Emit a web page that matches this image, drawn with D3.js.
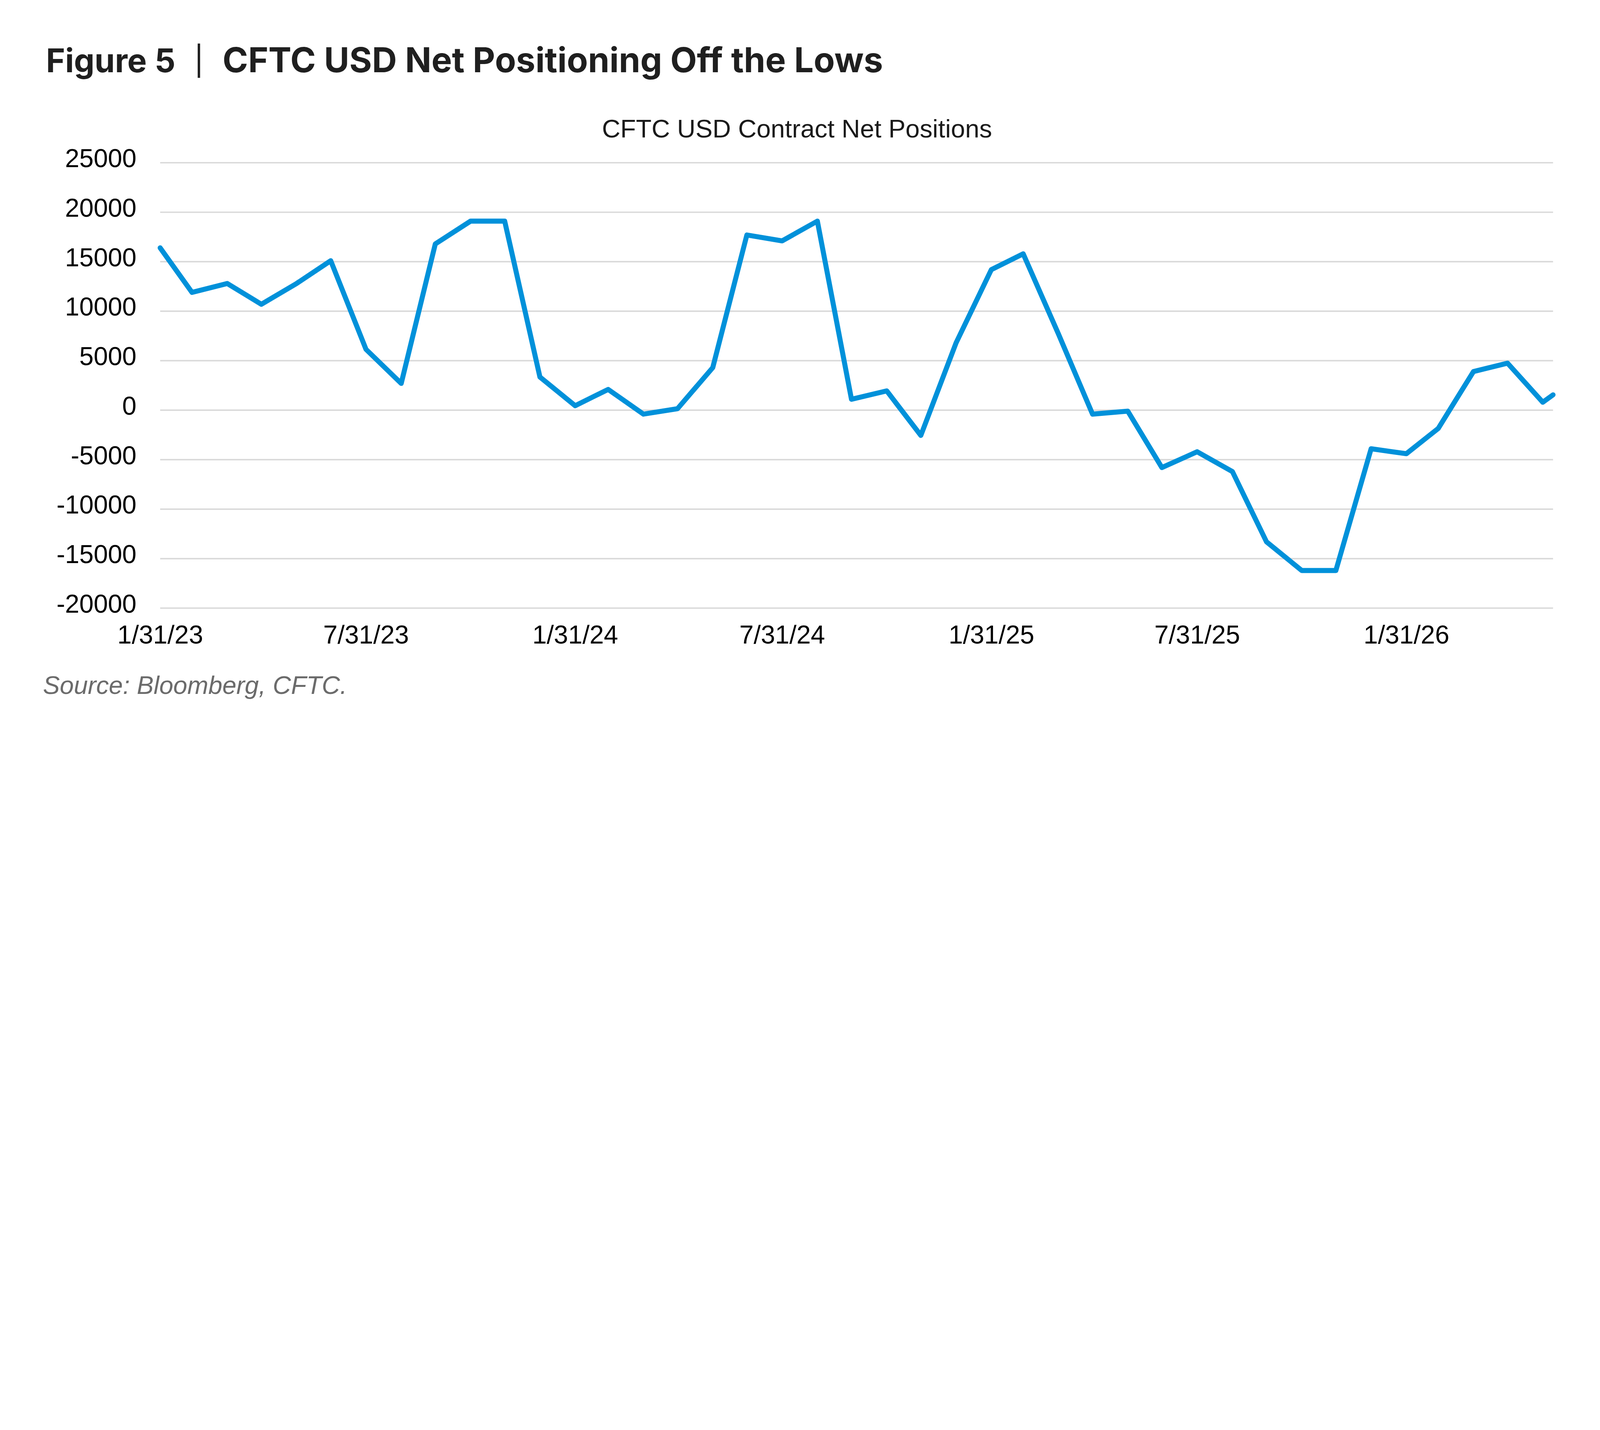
<!DOCTYPE html>
<html>
<head>
<meta charset="utf-8">
<script src="https://cdn.jsdelivr.net/npm/d3@7"></script>
<style>
  html, body { margin: 0; padding: 0; background: #ffffff; width: 100%; height: 100%; overflow: hidden; }
  svg { display: block; width: 100vw; height: 100vh; }
</style>
</head>
<body>
<script>
// ---- Data ----
const dates = [
  "1/31/23","2/28/23","3/31/23","4/30/23","5/31/23","6/30/23","7/31/23","8/31/23","9/30/23","10/31/23","11/30/23","12/31/23",
  "1/31/24","2/29/24","3/31/24","4/30/24","5/31/24","6/30/24","7/31/24","8/31/24","9/30/24","10/31/24","11/30/24","12/31/24",
  "1/31/25","2/28/25","3/31/25","4/30/25","5/31/25","6/30/25","7/31/25","8/31/25","9/30/25","10/31/25","11/30/25","12/31/25",
  "1/31/26","2/28/26","3/31/26","4/30/26","5/31/26","6/9/26"
];
const netPositions = [
  16400, 11900, 12800, 10700, 12800, 15100, 6150, 2700, 16800, 19100, 19100, 3350,
  450, 2100, -400, 150, 4300, 17700, 17100, 19100, 1100, 1950, -2550, 6800,
  14200, 15800, 7700, -400, -100, -5800, -4200, -6200, -13300, -16200, -16200, -3900,
  -4400, -1850, 3900, 4750, 800, 1550
];
const xTickLabels = ["1/31/23","7/31/23","1/31/24","7/31/24","1/31/25","7/31/25","1/31/26"];
const yTicks = [-20000, -15000, -10000, -5000, 0, 5000, 10000, 15000, 20000, 25000];
const titleLead = "Figure 5";
const titleMain = "CFTC USD Net Positioning Off the Lows";
const chartTitle = "CFTC USD Contract Net Positions";
const sourceNote = "Source: Bloomberg, CFTC.";

// ---- Layout ----
const W = 7972, H = 3662;
const plot = { left: 798, right: 7738, top: 811, bottom: 3031 };

const parse = d3.timeParse("%m/%d/%y");
const fmt = d3.timeFormat("%-m/%d/%y");
const data = dates.map((d, i) => ({ date: parse(d), value: netPositions[i] }));

const svg = d3.select("body").append("svg")
  .attr("viewBox", `0 0 ${W} ${H}`)
  .attr("preserveAspectRatio", "xMidYMin meet");
svg.append("rect").attr("width", W).attr("height", H).attr("fill", "#ffffff");

const x = d3.scaleTime()
  .domain(d3.extent(data, d => d.date))
  .range([plot.left, plot.right]);
const y = d3.scaleLinear()
  .domain([-20000, 25000])
  .range([plot.bottom, plot.top]);

function fitText(sel, target) {
  const node = sel.node();
  const fs = parseFloat(sel.attr("font-size"));
  const len = node.getComputedTextLength();
  if (len > 0) sel.attr("font-size", fs * target / len);
}

// ---- Title ----
const t1 = svg.append("text")
  .attr("x", 229).attr("y", 361)
  .attr("font-family", "Inter, 'Liberation Sans', sans-serif")
  .attr("font-weight", 700).attr("font-size", 170)
  .attr("fill", "#1f1f1f")
  .text(titleLead);
fitText(t1, 645);
svg.append("line")
  .attr("x1", 991).attr("x2", 991).attr("y1", 217).attr("y2", 388)
  .attr("stroke", "#1f1f1f").attr("stroke-width", 12);
const t2 = svg.append("text")
  .attr("x", 1109).attr("y", 361)
  .attr("font-family", "Inter, 'Liberation Sans', sans-serif")
  .attr("font-weight", 700).attr("font-size", 170)
  .attr("fill", "#1f1f1f")
  .text(titleMain);
fitText(t2, 3291);

// ---- Chart title ----
const st = svg.append("text")
  .attr("x", 3971).attr("y", 686)
  .attr("text-anchor", "middle")
  .attr("font-family", "'Liberation Sans', Arial, sans-serif")
  .attr("font-size", 127)
  .attr("fill", "#1a1a1a")
  .text(chartTitle);
fitText(st, 1944);

// ---- Gridlines ----
svg.append("g").selectAll("line")
  .data(yTicks)
  .join("line")
  .attr("x1", plot.left).attr("x2", plot.right)
  .attr("y1", d => y(d)).attr("y2", d => y(d))
  .attr("stroke", "#d9d9d9").attr("stroke-width", 7);

// ---- Y axis ----
const yAxis = svg.append("g")
  .attr("transform", `translate(${plot.left},0)`)
  .call(d3.axisLeft(y).tickValues(yTicks).tickSize(0).tickPadding(118).tickFormat(d => String(d)));
yAxis.select(".domain").remove();
yAxis.selectAll("text")
  .attr("font-family", "'Liberation Sans', Arial, sans-serif")
  .attr("font-size", 128)
  .attr("fill", "#000000")
  .attr("dy", "0.17em");

// ---- X axis ----
const xAxis = svg.append("g")
  .attr("transform", `translate(0,${plot.bottom})`)
  .call(d3.axisBottom(x).tickValues(xTickLabels.map(parse)).tickSize(0).tickPadding(85).tickFormat(fmt));
xAxis.select(".domain").remove();
xAxis.selectAll("text")
  .attr("font-family", "'Liberation Sans', Arial, sans-serif")
  .attr("font-size", 128)
  .attr("fill", "#000000");

// ---- Line ----
const line = d3.line().x(d => x(d.date)).y(d => y(d.value));
svg.append("path")
  .datum(data)
  .attr("d", line)
  .attr("fill", "none")
  .attr("stroke", "#0091da")
  .attr("stroke-width", 25)
  .attr("stroke-linejoin", "round")
  .attr("stroke-linecap", "round");

// ---- Source ----
const src = svg.append("text")
  .attr("x", 214).attr("y", 3459)
  .attr("font-family", "'Liberation Sans', Arial, sans-serif")
  .attr("font-style", "italic")
  .attr("font-size", 125)
  .attr("fill", "#6b6b6b")
  .text(sourceNote);
fitText(src, 1515);
</script>
</body>
</html>
